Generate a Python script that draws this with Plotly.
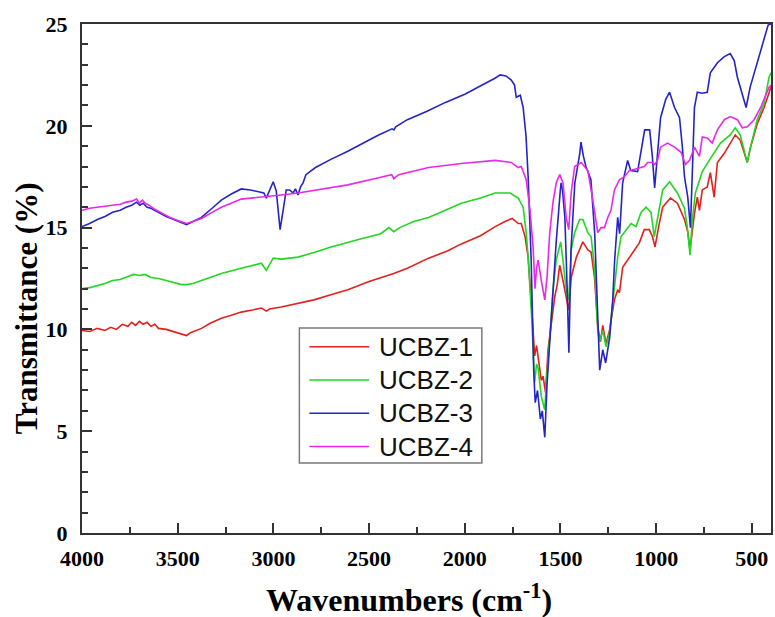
import plotly.graph_objects as go

# FTIR transmittance spectra of the four UCBZ samples
names = ["UCBZ-1", "UCBZ-2", "UCBZ-3", "UCBZ-4"]
colors = ["#e3201c", "#22d622", "#2424c8", "#ea28ea"]

wn_1 = [4000, 3960, 3920, 3880, 3850, 3820, 3790, 3760, 3740, 3720, 3700, 3680, 3660, 3640, 3620, 3600,
        3560, 3520, 3480, 3454, 3430, 3400, 3376, 3330, 3272, 3220, 3168, 3110, 3063, 3037, 3020, 2959,
        2880, 2788, 2700, 2611, 2500, 2400, 2371, 2300, 2189, 2091, 2018, 1918, 1841, 1790, 1752, 1721,
        1705, 1685, 1669, 1650, 1635, 1625, 1617, 1600, 1591, 1578, 1565, 1547, 1530, 1516, 1504, 1487,
        1470, 1457, 1444, 1417, 1383, 1357, 1340, 1322, 1305, 1291, 1279, 1262, 1244, 1218, 1201, 1192,
        1175, 1149, 1114, 1088, 1062, 1036, 1019, 1006, 984, 966, 949, 925, 889, 852, 835, 823, 800, 785,
        774, 759, 733, 717, 697, 680, 644, 613, 587, 561, 540, 524, 507, 472, 436, 410, 400]
t_1 = [9.95, 9.9, 10.05, 9.95, 10.1, 10.0, 10.25, 10.15, 10.35, 10.2, 10.4, 10.25, 10.35, 10.15, 10.25, 10.05,
       10.0, 9.9, 9.8, 9.7, 9.85, 9.95, 10.05, 10.3, 10.55, 10.7, 10.85, 10.95, 11.05, 10.9, 11.0, 11.1,
       11.25, 11.45, 11.7, 11.95, 12.35, 12.65, 12.75, 13.0, 13.5, 13.85, 14.2, 14.6, 15.05, 15.3, 15.45, 15.2,
       15.2, 14.55, 13.55, 11.0, 8.7, 9.2, 8.65, 7.5, 7.7, 6.9, 9.0, 10.45, 11.6, 12.25, 13.15, 12.4,
       11.6, 10.95, 12.55, 13.55, 14.3, 13.9, 13.8, 12.55, 10.1, 9.4, 10.2, 9.3, 9.95, 11.45, 11.95, 11.8,
       13.05, 13.4, 13.9, 14.25, 14.9, 14.9, 14.55, 14.05, 15.2, 16.0, 16.2, 16.45, 16.2, 15.4, 14.8, 13.9, 15.7, 16.5,
       15.85, 16.85, 17.0, 17.7, 16.5, 18.2, 18.65, 19.15, 19.55, 19.3, 18.65, 18.2, 18.95, 20.1, 20.9, 21.65, 21.9]

wn_2 = [4000, 3960, 3920, 3880, 3840, 3800, 3760, 3730, 3700, 3670, 3640, 3600, 3560, 3520, 3480, 3454,
        3420, 3376, 3320, 3272, 3168, 3063, 3037, 3015, 3001, 2959, 2871, 2780, 2699, 2560, 2439, 2397,
        2371, 2340, 2267, 2189, 2100, 2018, 1918, 1841, 1763, 1721, 1695, 1679, 1669, 1650, 1635, 1625,
        1617, 1600, 1582, 1574, 1556, 1539, 1522, 1509, 1499, 1487, 1470, 1457, 1444, 1426, 1400, 1383,
        1357, 1340, 1322, 1305, 1296, 1279, 1262, 1244, 1218, 1201, 1184, 1158, 1131, 1105, 1079, 1053,
        1027, 1010, 993, 966, 930, 889, 852, 837, 823, 811, 795, 759, 723, 697, 664, 613, 587, 561, 540,
        524, 507, 472, 436, 410, 400]
t_2 = [12.0, 12.05, 12.15, 12.25, 12.4, 12.45, 12.6, 12.7, 12.65, 12.7, 12.55, 12.5, 12.4, 12.3, 12.2, 12.2,
       12.25, 12.4, 12.6, 12.75, 13.0, 13.25, 12.9, 13.3, 13.5, 13.45, 13.55, 13.8, 14.05, 14.4, 14.7, 15.0,
       14.8, 15.0, 15.3, 15.5, 15.85, 16.2, 16.45, 16.7, 16.7, 16.45, 16.0, 14.75, 13.55, 10.5, 7.4, 8.3,
       8.1, 6.7, 6.05, 7.35, 9.6, 11.95, 13.4, 13.9, 14.3, 13.4, 11.95, 11.45, 13.9, 14.75, 15.4, 15.4,
       14.75, 14.55, 13.05, 9.95, 9.4, 9.95, 9.15, 9.8, 11.95, 13.55, 14.55, 14.9, 15.2, 15.05, 15.75, 16.0,
       15.75, 14.55, 15.5, 16.85, 17.25, 16.7, 15.95, 15.0, 13.65, 15.4, 16.7, 17.75, 18.3, 18.7, 19.15, 19.55, 19.9, 19.55, 18.8,
       18.2, 18.95, 20.3, 21.1, 22.4, 22.6]

wn_3 = [4000, 3960, 3920, 3880, 3840, 3800, 3770, 3740, 3715, 3698, 3680, 3660, 3640, 3600, 3560, 3520,
        3480, 3454, 3420, 3376, 3320, 3272, 3220, 3168, 3120, 3079, 3050, 3037, 3015, 3001, 2985, 2965,
        2950, 2933, 2915, 2897, 2885, 2871, 2858, 2845, 2830, 2780, 2700, 2611, 2500, 2450, 2380, 2370,
        2361, 2300, 2200, 2101, 2000, 1929, 1877, 1840, 1815, 1785, 1757, 1740, 1731, 1710, 1695, 1680,
        1669, 1653, 1640, 1632, 1620, 1605, 1595, 1582, 1570, 1549, 1523, 1502, 1497, 1490, 1477, 1465,
        1456, 1445, 1425, 1399, 1393, 1380, 1367, 1341, 1321, 1305, 1295, 1279, 1264, 1243, 1227, 1217,
        1201, 1191, 1175, 1149, 1133, 1097, 1060, 1034, 1020, 1008, 990, 977, 950, 930, 904, 878, 863,
        852, 835, 821, 810, 800, 785, 759, 733, 717, 680, 644, 613, 592, 576, 540, 530, 509, 472, 457,
        436, 415, 400]
t_3 = [15.05, 15.2, 15.4, 15.55, 15.75, 15.85, 16.0, 16.1, 16.25, 16.1, 16.2, 16.0, 15.95, 15.75, 15.55, 15.4,
       15.25, 15.15, 15.3, 15.5, 15.95, 16.35, 16.65, 16.9, 16.85, 16.75, 16.7, 16.45, 17.0, 17.25, 16.8, 14.9,
       15.8, 16.85, 16.85, 16.7, 16.9, 16.6, 17.0, 17.2, 17.6, 17.95, 18.35, 18.75, 19.3, 19.55, 19.85, 19.8,
       19.95, 20.3, 20.7, 21.15, 21.55, 21.9, 22.15, 22.35, 22.5, 22.45, 22.25, 22.0, 21.4, 21.5, 20.9, 19.5,
       17.5, 13.4, 8.0, 6.4, 7.0, 5.6, 6.0, 4.7, 7.35, 10.6, 14.2, 16.7, 17.2, 16.9, 15.5, 12.0,
       8.85, 13.9, 17.2, 18.65, 19.2, 18.5, 18.0, 17.35, 14.7, 10.6, 8.0, 9.0, 8.35, 9.6, 11.45, 13.4,
       15.5, 14.7, 17.2, 18.3, 17.8, 17.75, 19.8, 19.8, 18.5, 16.95, 19.0, 20.4, 21.3, 21.65, 20.9, 20.4, 18.95,
       17.5, 16.5, 15.0, 18.0, 20.9, 21.65, 21.6, 21.65, 22.6, 23.1, 23.4, 23.55, 23.2, 22.4, 21.25, 20.9, 21.9, 23.1, 23.55,
       24.2, 24.95, 25.0]

wn_4 = [4000, 3960, 3920, 3880, 3840, 3800, 3770, 3740, 3715, 3700, 3685, 3670, 3650, 3620, 3580, 3540,
        3500, 3454, 3420, 3376, 3320, 3272, 3168, 3048, 2960, 2871, 2750, 2611, 2450, 2382, 2371, 2345,
        2189, 2018, 1841, 1757, 1721, 1705, 1679, 1659, 1643, 1633, 1625, 1617, 1600, 1582, 1570, 1556,
        1539, 1522, 1504, 1487, 1470, 1457, 1444, 1426, 1392, 1357, 1331, 1305, 1288, 1270, 1253, 1236,
        1218, 1192, 1166, 1140, 1097, 1062, 1045, 1019, 1008, 993, 977, 941, 904, 870, 847, 826, 800,
        774, 759, 733, 707, 680, 644, 613, 576, 550, 524, 488, 454, 431, 410, 400]
t_4 = [15.85, 15.95, 16.0, 16.05, 16.1, 16.15, 16.25, 16.3, 16.4, 16.2, 16.35, 16.2, 16.1, 15.9, 15.7, 15.5,
       15.35, 15.2, 15.3, 15.45, 15.75, 16.0, 16.4, 16.5, 16.6, 16.7, 16.9, 17.1, 17.45, 17.6, 17.4, 17.6,
       17.95, 18.15, 18.3, 18.2, 17.95, 18.0, 17.35, 15.85, 14.05, 12.0, 13.0, 13.4, 12.4, 11.45, 12.6, 14.75,
       16.25, 17.2, 17.6, 17.2, 15.5, 14.9, 16.7, 18.0, 18.2, 17.8, 16.35, 14.75, 15.0, 15.0, 15.5, 15.85,
       16.85, 17.35, 17.5, 17.8, 17.9, 18.0, 18.2, 18.2, 18.1, 18.3, 18.95, 19.15, 18.95, 18.7, 18.1, 18.3, 18.95,
       18.5, 19.45, 19.4, 19.15, 19.8, 20.3, 20.45, 20.3, 19.9, 19.95, 20.3, 20.9, 21.4, 21.9, 22.0]

x_ticks = [4000, 3500, 3000, 2500, 2000, 1500, 1000, 500]
y_ticks = [0, 5, 10, 15, 20, 25]

series = [(wn_1, t_1), (wn_2, t_2), (wn_3, t_3), (wn_4, t_4)]

fig = go.Figure()
for (wn, t), name, color in zip(series, names, colors):
    fig.add_trace(go.Scatter(x=wn, y=t, mode="lines", name=name,
                             line=dict(color=color, width=1.6), showlegend=False))

axis_font = dict(family="Liberation Serif", size=22, color="black")
fig.update_xaxes(range=[4000, 400], tickvals=x_ticks, ticktext=[f"<b>{v}</b>" for v in x_ticks],
                 ticks="inside", ticklen=10, tickwidth=2, ticklabelstandoff=5,
                 tickcolor="#333", showline=True, linecolor="#333", linewidth=2, mirror=True,
                 showgrid=False, zeroline=False, tickfont=axis_font,
                 minor=dict(dtick=250, ticks="inside", ticklen=6, tickwidth=2, tickcolor="#333"))
fig.update_yaxes(range=[0, 25], tickvals=y_ticks, ticktext=[f"<b>{v}</b>" for v in y_ticks],
                 ticks="inside", ticklen=10, tickwidth=2, ticklabelstandoff=8,
                 tickcolor="#333", showline=True, linecolor="#333", linewidth=2, mirror=True,
                 showgrid=False, zeroline=False, tickfont=axis_font,
                 minor=dict(dtick=1, ticks="inside", ticklen=6, tickwidth=2, tickcolor="#333"))

# Legend box drawn inside the plot area
L, R, T, B = 82, 773, 24, 533
W, H = R - L, B - T
def px(x):
    return (x - L) / W
def py(y):
    return (B - y) / H

shapes = [dict(type="rect", xref="paper", yref="paper", x0=px(300), x1=px(483), y0=py(463), y1=py(328),
               line=dict(color="#7a7a7a", width=1.5), fillcolor="white", layer="above")]
annotations = []
for i, (name, color) in enumerate(zip(names, colors)):
    yy = 346.7 + i * 33.3
    shapes.append(dict(type="line", xref="paper", yref="paper", x0=px(310), x1=px(370),
                       y0=py(yy), y1=py(yy), line=dict(color=color, width=1.5), layer="above"))
    annotations.append(dict(text=name, xref="paper", yref="paper", x=px(378), y=py(yy),
                            xanchor="left", yanchor="middle", showarrow=False,
                            font=dict(family="Liberation Sans", size=26, color="#111")))

annotations.append(dict(text="<b>Wavenumbers (cm<sup>-1</sup>)</b>", xref="paper", yref="paper",
                        x=px(410), y=py(598), xanchor="center", yanchor="middle", showarrow=False,
                        font=dict(family="Liberation Serif", size=32, color="black")))
annotations.append(dict(text="<b>Transmittance (%)</b>", xref="paper", yref="paper",
                        x=px(26), y=py(308), xanchor="center", yanchor="middle", showarrow=False,
                        textangle=-90, font=dict(family="Liberation Serif", size=31, color="black")))

fig.update_layout(width=775, height=617, margin=dict(l=L, r=775 - R, t=T, b=617 - B),
                  paper_bgcolor="white", plot_bgcolor="white",
                  shapes=shapes, annotations=annotations)

fig.write_html("out.html")
